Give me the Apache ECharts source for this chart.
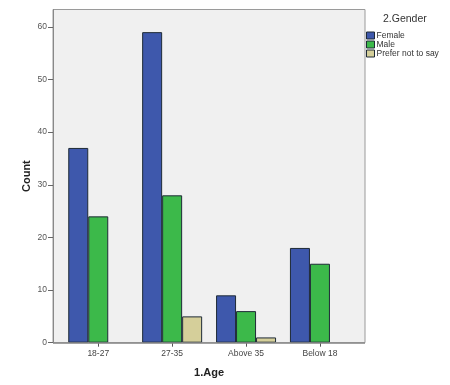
<!DOCTYPE html>
<html><head><meta charset="utf-8">
<script src="https://cdn.jsdelivr.net/npm/echarts@6/dist/echarts.min.js"></script>
<style>html,body{margin:0;padding:0;background:#fff}#c{width:450px;height:385px}</style>
</head><body><div id="c"></div>
<script>
const categories = ['18-27', '27-35', 'Above 35', 'Below 18'];
const female = [37, 59, 9, 18];
const male = [24, 28, 6, 15];
const preferNot = [0, 5, 1, 0];
const seriesNames = ['Female', 'Male', 'Prefer not to say'];
const yTicks = [0, 10, 20, 30, 40, 50, 60];

const colors = ['#3e58ac', '#3cb94a', '#d5cf9a'];
const YMAX = 63.3;
const noZero = arr => arr.map(v => (v === 0 ? null : v));
const chart = echarts.init(document.getElementById('c'));
const barStyle = c => ({ color: c, borderColor: '#1e2a36', borderWidth: 1 });
chart.setOption({
  animation: false,
  textStyle: { fontFamily: 'Liberation Sans, Arial, sans-serif' },
  grid: [
    { left: 53, top: 9.5, width: 312, height: 333.2, show: true, backgroundColor: '#f0f0f0', borderColor: '#9a9a9a', borderWidth: 1 },
    { left: 61.3, top: 9.5, width: 295.6, height: 333.2 }
  ],
  legend: {
    orient: 'vertical', left: 366, top: 31, padding: 0, itemWidth: 8, itemHeight: 7, itemGap: 0,
    textStyle: { fontSize: 8.5, color: '#333', padding: [0, 0, 0, -3] },
    data: seriesNames.map((n, i) => ({ name: n, icon: 'rect', itemStyle: barStyle(colors[i]) }))
  },
  graphic: [{ type: 'text', left: 383, top: 14, style: { text: '2.Gender', fontSize: 10.5, fill: '#333', fontFamily: 'Liberation Sans, Arial, sans-serif' } }],
  xAxis: [
    { type: 'category', gridIndex: 0, show: false, data: [''] },
    { type: 'category', gridIndex: 1, data: categories,
      axisLine: { show: false },
      axisTick: { show: true, alignWithLabel: true, length: 4, lineStyle: { color: '#555' } },
      axisLabel: { fontSize: 8.5, color: '#444', margin: 6 },
      name: '1.Age', nameLocation: 'middle', nameGap: 25, nameMoveOverlap: false,
      nameTextStyle: { fontSize: 11, fontWeight: 'bold', color: '#222' } }
  ],
  yAxis: [
    { type: 'value', gridIndex: 0, min: 0, max: YMAX, interval: 10,
      axisLine: { show: true, lineStyle: { color: '#888' } },
      axisTick: { show: true, length: 5, lineStyle: { color: '#666' } },
      axisLabel: { fontSize: 8.5, color: '#555', margin: 6, showMaxLabel: false,
        formatter: v => yTicks.includes(v) ? String(v) : '' },
      splitLine: { show: false },
      name: 'Count', nameLocation: 'middle', nameGap: 21, nameRotate: 90, nameMoveOverlap: false,
      nameTextStyle: { fontSize: 11, fontWeight: 'bold', color: '#222' } },
    { type: 'value', gridIndex: 1, min: 0, max: YMAX, show: false, splitLine: { show: false } }
  ],
  series: [
    { name: seriesNames[0], type: 'bar', xAxisIndex: 1, yAxisIndex: 1, data: noZero(female), barWidth: 20, barGap: '0%', itemStyle: barStyle(colors[0]) },
    { name: seriesNames[1], type: 'bar', xAxisIndex: 1, yAxisIndex: 1, data: noZero(male), barWidth: 20, barGap: '0%', itemStyle: barStyle(colors[1]) },
    { name: seriesNames[2], type: 'bar', xAxisIndex: 1, yAxisIndex: 1, data: noZero(preferNot), barWidth: 20, barGap: '0%', itemStyle: barStyle(colors[2]) },
    { type: 'line', xAxisIndex: 0, yAxisIndex: 0, data: [], silent: true,
      markLine: { silent: true, symbol: 'none', label: { show: false },
        lineStyle: { color: '#888', width: 1.5, type: 'solid' }, data: [{ yAxis: 0 }] } }
  ]
});
</script></body></html>
